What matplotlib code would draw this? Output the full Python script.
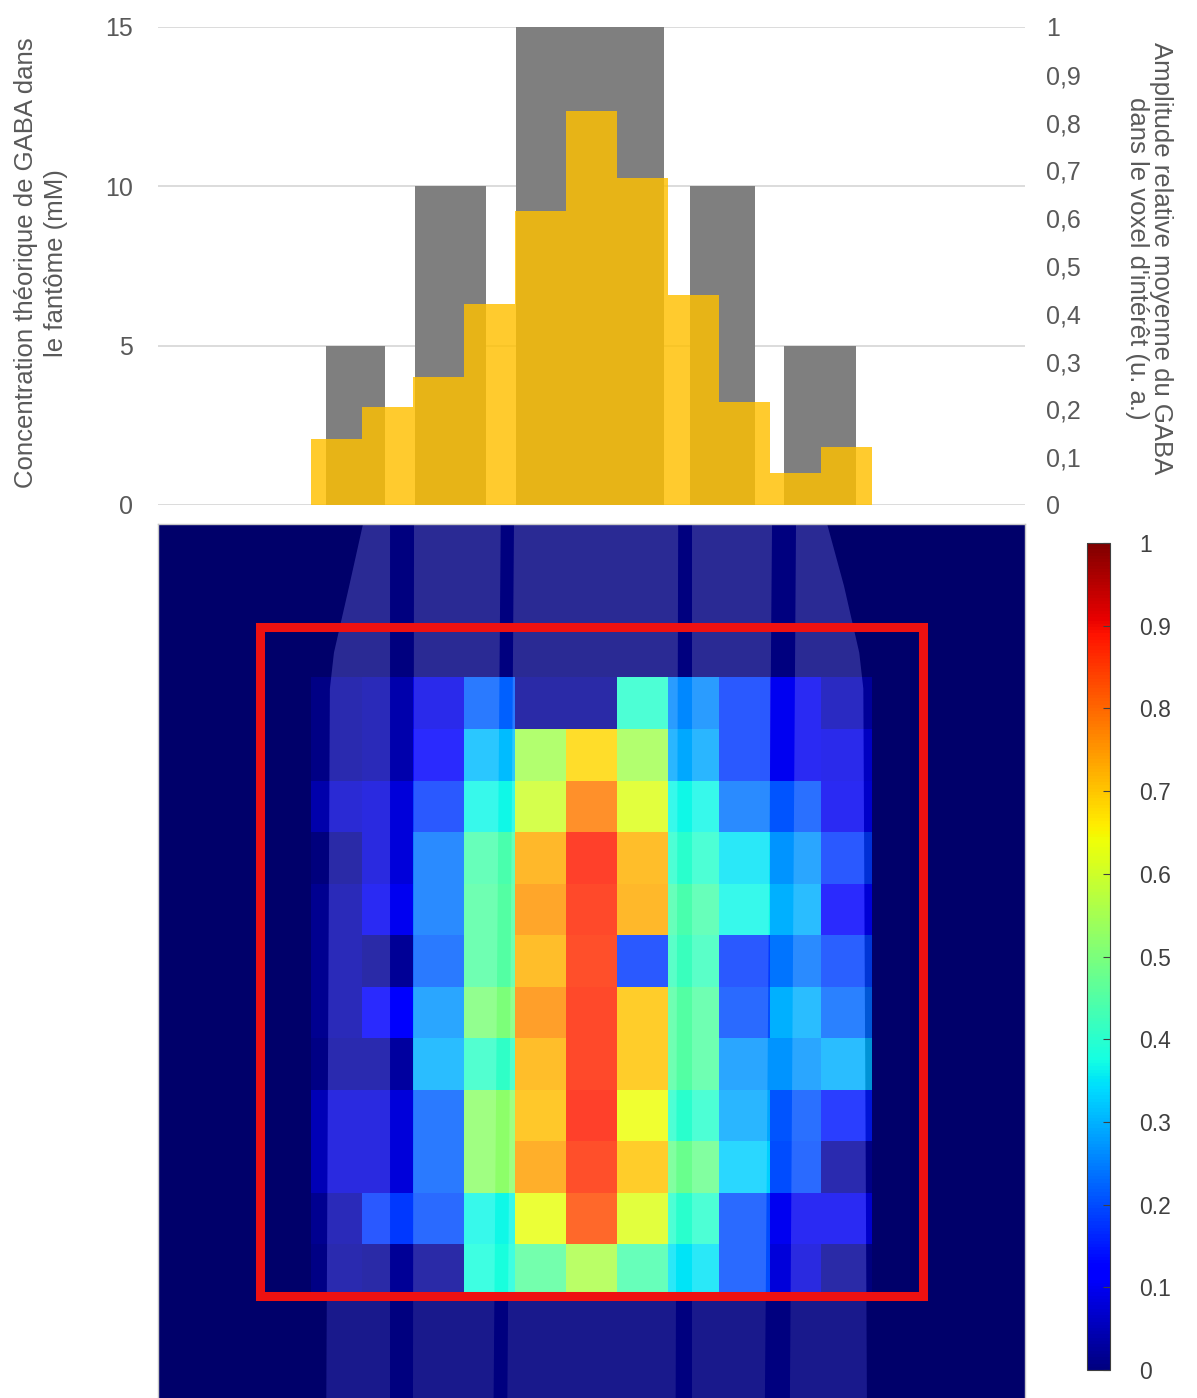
import numpy as np
import matplotlib
matplotlib.use("Agg")
import matplotlib.pyplot as plt
from matplotlib.patches import Rectangle, Polygon

plt.rcParams['font.family'] = ['Liberation Sans', 'DejaVu Sans']

# ---------------- data ----------------
tube_names = ["T1", "T2", "T3", "T4", "T5"]
tube_conc_mM = [5, 10, 15, 10, 5]

voxel_columns = [3, 4, 5, 6, 7, 8, 9, 10, 11, 12, 13]
mean_amplitude = [0.138, 0.205, 0.268, 0.42, 0.615, 0.824, 0.684, 0.44, 0.215, 0.067, 0.121]

left_ticks = [0, 5, 10, 15]
right_ticks = [0, 0.1, 0.2, 0.3, 0.4, 0.5, 0.6, 0.7, 0.8, 0.9, 1.0]
right_ticklabels = ["0", "0,1", "0,2", "0,3", "0,4", "0,5", "0,6", "0,7", "0,8", "0,9", "1"]
cbar_ticks = [0, 0.1, 0.2, 0.3, 0.4, 0.5, 0.6, 0.7, 0.8, 0.9, 1.0]
cbar_ticklabels = ["0", "0.1", "0.2", "0.3", "0.4", "0.5", "0.6", "0.7", "0.8", "0.9", "1"]

grid_n = 17
map_rows = [3, 4, 5, 6, 7, 8, 9, 10, 11, 12, 13, 14]
map_cols = [3, 4, 5, 6, 7, 8, 9, 10, 11, 12, 13]
amplitude_map = [
    [0.03, 0.04, 0.09, 0.22, 0.02, 0.02, 0.40, 0.26, 0.18, 0.10, 0.05],
    [0.03, 0.04, 0.11, 0.31, 0.55, 0.68, 0.55, 0.29, 0.18, 0.10, 0.09],
    [0.07, 0.08, 0.18, 0.37, 0.60, 0.78, 0.62, 0.37, 0.24, 0.21, 0.10],
    [0.02, 0.08, 0.24, 0.44, 0.73, 0.88, 0.72, 0.40, 0.35, 0.27, 0.18],
    [0.04, 0.10, 0.24, 0.45, 0.75, 0.87, 0.73, 0.44, 0.37, 0.30, 0.11],
    [0.04, 0.02, 0.22, 0.45, 0.72, 0.86, 0.18, 0.42, 0.18, 0.24, 0.19],
    [0.04, 0.11, 0.27, 0.50, 0.76, 0.87, 0.70, 0.45, 0.20, 0.30, 0.23],
    [0.03, 0.03, 0.30, 0.41, 0.72, 0.87, 0.70, 0.45, 0.27, 0.27, 0.30],
    [0.08, 0.08, 0.22, 0.52, 0.71, 0.88, 0.64, 0.40, 0.29, 0.21, 0.15],
    [0.08, 0.08, 0.22, 0.52, 0.74, 0.86, 0.70, 0.48, 0.33, 0.20, 0.03],
    [0.04, 0.18, 0.20, 0.37, 0.63, 0.83, 0.62, 0.40, 0.20, 0.10, 0.10],
    [0.03, 0.02, 0.02, 0.38, 0.46, 0.56, 0.44, 0.35, 0.20, 0.08, 0.02],
]
roi_first = 2
roi_last = 15

left_label = "Concentration théorique de GABA dans\nle fantôme (mM)"
right_label = "Amplitude relative moyenne du GABA\ndans le voxel d'intérêt (u. a.)"

# ---------------- layout (pixels) ----------------
W, H = 1197, 1398
fig = plt.figure(figsize=(W / 100, H / 100), dpi=100)
fig.patch.set_facecolor("white")

def fr(x0, y0, x1, y1):
    return [x0 / W, 1 - y1 / H, (x1 - x0) / W, (y1 - y0) / H]

# tube geometry (in column units) for the phantom outline
tube_center = [3.87, 5.74, 8.47, 11.07, 12.98]
tube_width = [1.16, 1.39, 2.90, 1.28, 1.42]

# ---------------- top chart ----------------
ax1 = fig.add_axes(fr(158, 27, 1025, 505))
ax1.set_xlim(0, grid_n)
ax1.set_ylim(0, 15)
ax1.bar(tube_center, tube_conc_mM, width=tube_width, color="#7f7f7f", zorder=2)
ax1.set_yticks(left_ticks)
ax1.yaxis.grid(True, color="#d9d9d9", lw=1.3, zorder=0)
ax1.set_axisbelow(True)
ax1.set_xticks([])
for s in ax1.spines.values():
    s.set_visible(False)
ax1.tick_params(axis="y", length=0, pad=18, labelsize=18, labelcolor="#595959")

ax2 = ax1.twinx()
ax2.set_ylim(0, 1)
ax2.set_xlim(0, grid_n)
ax2.bar(np.array(voxel_columns) + 0.5, mean_amplitude, width=1.0,
        color="#FFC000", alpha=0.82, zorder=3)
ax2.set_yticks(right_ticks)
ax2.set_yticklabels(right_ticklabels)
for s in ax2.spines.values():
    s.set_visible(False)
ax2.tick_params(axis="y", length=0, pad=15, labelsize=18, labelcolor="#595959")

fig.text(41 / W, 1 - 263 / H, left_label, rotation=90, ha="center", va="center",
         multialignment="center", fontsize=18.5, color="#595959", linespacing=1.3)
fig.text(1149 / W, 1 - 258 / H, right_label, rotation=270, ha="center", va="center",
         multialignment="center", fontsize=18.5, color="#595959", linespacing=1.05)

# ---------------- heat map ----------------
grid = np.zeros((grid_n, grid_n))
for i, r in enumerate(map_rows):
    for j, c in enumerate(map_cols):
        grid[r, c] = amplitude_map[i][j]

axh = fig.add_axes(fr(158, 524, 1025, 1399))
im = axh.imshow(grid, cmap="jet", vmin=0, vmax=1, extent=(0, grid_n, grid_n, 0),
                interpolation="nearest", aspect="auto", zorder=1)
axh.set_xlim(0, grid_n)
axh.set_ylim(grid_n, 0)
axh.set_xticks([])
axh.set_yticks([])
for s in axh.spines.values():
    s.set_color("#c8c8c8")
    s.set_linewidth(1)

# phantom photo overlay (semi-transparent)
left_edge = [(4.02, 0), (3.75, 1.2), (3.45, 2.5), (3.37, 3.2), (3.30, 17)]
right_edge = [(13.12, 0), (13.45, 1.2), (13.75, 2.5), (13.83, 3.2), (13.90, 17)]
axh.add_patch(Polygon([(0, 0)] + left_edge + [(0, 17)], closed=True,
                      facecolor="black", edgecolor="none", alpha=0.16, zorder=2))
axh.add_patch(Polygon([(17, 0)] + right_edge + [(17, 17)], closed=True,
                      facecolor="black", edgecolor="none", alpha=0.16, zorder=2))
tubes = [
    left_edge + [(4.55, 17), (4.55, 0)],
    [(5.02, 0), (6.72, 0), (6.58, 17), (5.0, 17)],
    [(6.98, 0), (10.2, 0), (10.15, 17), (6.85, 17)],
    [(10.47, 0), (12.04, 0), (11.9, 17), (10.47, 17)],
    [(12.51, 0)] + right_edge + [(12.39, 17)],
]
for t in tubes:
    for (y0, y1, a) in [(0, 15.0, 0.17), (15.0, 17, 0.10)]:
        p = Polygon(t, closed=True, facecolor="white", edgecolor="none",
                    alpha=a, zorder=2)
        axh.add_patch(p)
        clip = Rectangle((0, y0), 17, y1 - y0, transform=axh.transData)
        p.set_clip_path(clip)

axh.add_patch(Rectangle((roi_first, roi_first), roi_last - roi_first, roi_last - roi_first,
                        fill=False, edgecolor="#ee1111", lw=6.5, zorder=4))

# ---------------- colour bar ----------------
cax = fig.add_axes(fr(1087, 543, 1110, 1370))
cb = fig.colorbar(im, cax=cax)
cb.set_ticks(cbar_ticks)
cb.set_ticklabels(cbar_ticklabels)
cb.outline.set_edgecolor("#404040")
cb.outline.set_linewidth(0.8)
cax.tick_params(direction="in", length=5, width=0.8, color="#404040",
                pad=21, labelsize=16.5, labelcolor="#404040")

fig.savefig("out.png", dpi=100, facecolor="white")
